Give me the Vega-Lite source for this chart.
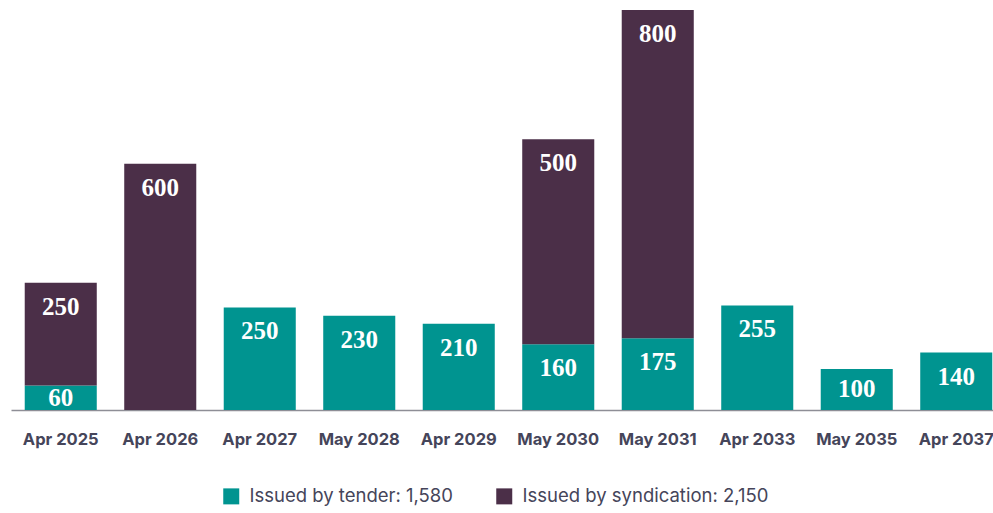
{
  "$schema": "https://vega.github.io/schema/vega-lite/v6.json",
  "autosize": {"type": "none"},
  "width": 995,
  "height": 400,
  "padding": {"left": 11, "top": 10, "right": 0, "bottom": 103},
  "background": "white",
  "config": {"view": {"stroke": null}},
  "data": {
    "values": [
      {"date": "Apr 2025", "type": "Issued by tender", "amount": 60},
      {"date": "Apr 2025", "type": "Issued by syndication", "amount": 250},
      {"date": "Apr 2026", "type": "Issued by syndication", "amount": 600},
      {"date": "Apr 2027", "type": "Issued by tender", "amount": 250},
      {"date": "May 2028", "type": "Issued by tender", "amount": 230},
      {"date": "Apr 2029", "type": "Issued by tender", "amount": 210},
      {"date": "May 2030", "type": "Issued by tender", "amount": 160},
      {"date": "May 2030", "type": "Issued by syndication", "amount": 500},
      {"date": "May 2031", "type": "Issued by tender", "amount": 175},
      {"date": "May 2031", "type": "Issued by syndication", "amount": 800},
      {"date": "Apr 2033", "type": "Issued by tender", "amount": 255},
      {"date": "May 2035", "type": "Issued by tender", "amount": 100},
      {"date": "Apr 2037", "type": "Issued by tender", "amount": 140}
    ]
  },
  "transform": [
    {"stack": "amount", "groupby": ["date"], "sort": [{"field": "type", "order": "descending"}], "as": ["y0", "y1"]},
    {"calculate": "max(datum.y1 - 58.5, (datum.y0 + datum.y1) / 2)", "as": "labelPos"}
  ],
  "encoding": {
    "x": {
      "field": "date",
      "type": "nominal",
      "sort": null,
      "scale": {"paddingInner": 0.276, "paddingOuter": 0.138},
      "axis": {
        "title": null,
        "labelAngle": 0,
        "ticks": false,
        "labelPadding": 21,
        "labelFont": "Inter",
        "labelFontWeight": "bold",
        "labelFontSize": 16.5,
        "labelColor": "#45455a",
        "domainColor": "#8e8e96",
        "domainWidth": 1.5
      }
    }
  },
  "layer": [
    {
      "mark": {"type": "bar"},
      "encoding": {
        "y": {"field": "y0", "type": "quantitative", "scale": {"domain": [0, 975], "nice": false}, "axis": null},
        "y2": {"field": "y1"},
        "color": {
          "field": "type",
          "type": "nominal",
          "scale": {"domain": ["Issued by tender", "Issued by syndication"], "range": ["#009490", "#4b2f48"]},
          "legend": {
            "title": null,
            "orient": "none",
            "direction": "horizontal",
            "legendX": 211,
            "legendY": 477,
            "symbolType": "square",
            "symbolSize": 256,
            "symbolStrokeWidth": 0,
            "symbolOpacity": 1,
            "labelFont": "Inter",
            "labelFontSize": 18.5,
            "labelColor": "#45455a",
            "labelOffset": 9,
            "columnPadding": 42,
            "labelLimit": 400,
            "labelExpr": "datum.label == 'Issued by tender' ? 'Issued by tender: 1,580' : 'Issued by syndication: 2,150'"
          }
        }
      }
    },
    {
      "mark": {"type": "text", "font": "Liberation Serif", "fontWeight": "bold", "fontSize": 25, "color": "white", "baseline": "middle", "align": "center"},
      "encoding": {
        "y": {"field": "labelPos", "type": "quantitative"},
        "text": {"field": "amount", "type": "quantitative"}
      }
    }
  ]
}
